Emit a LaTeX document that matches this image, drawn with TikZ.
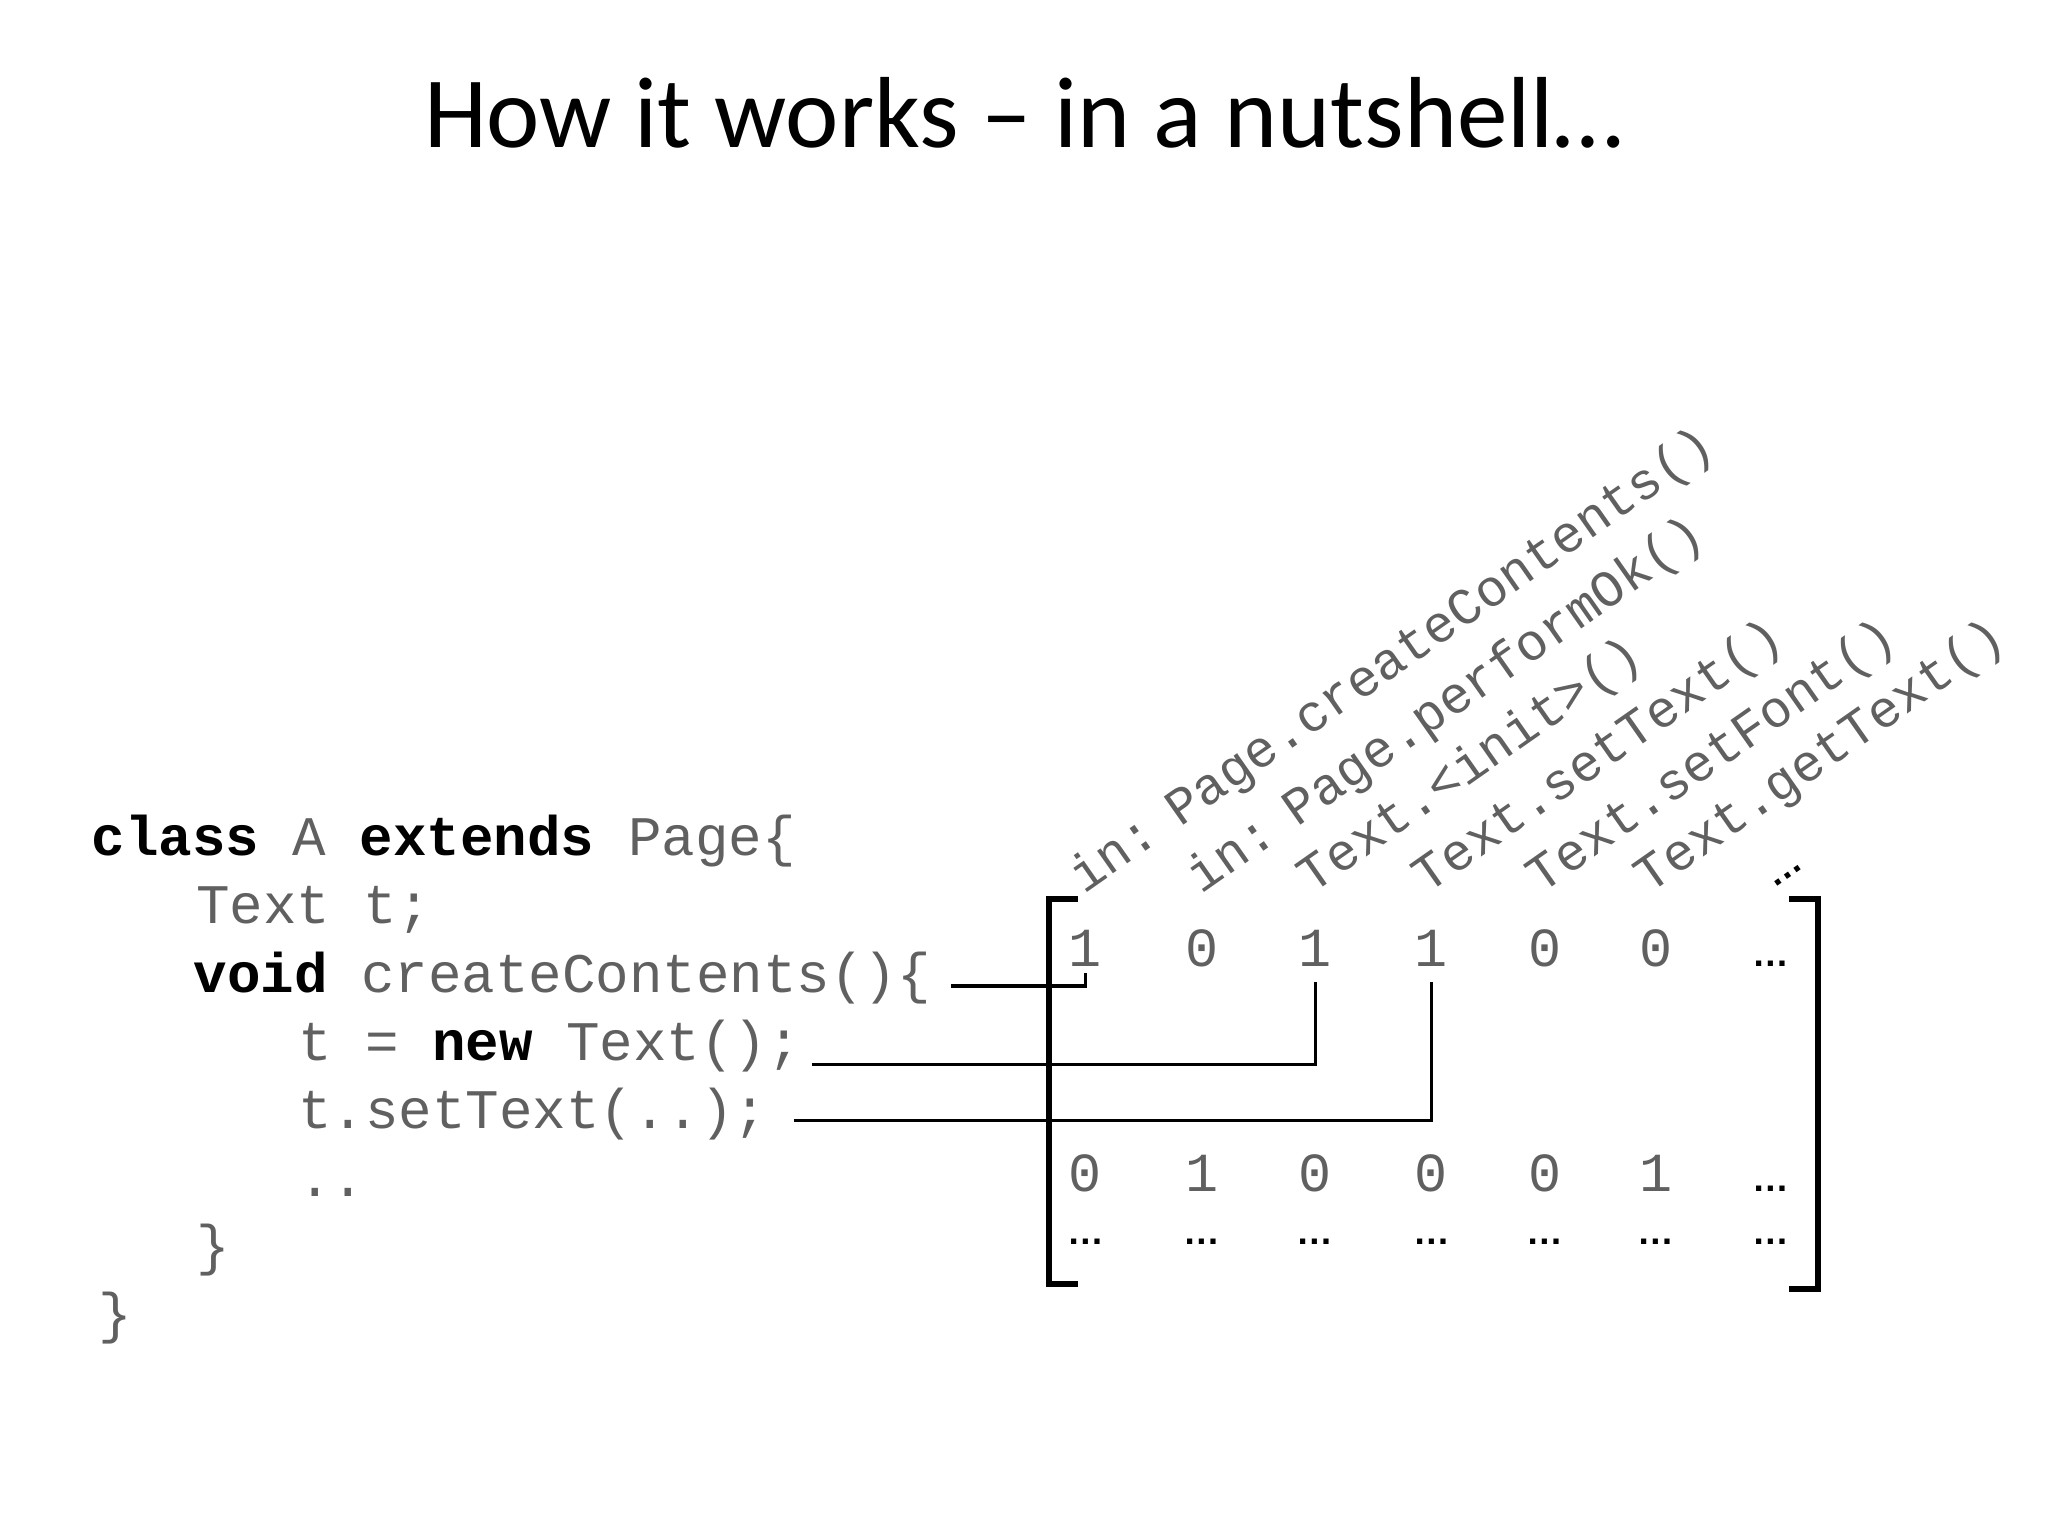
\documentclass[tikz,border=0pt]{standalone}
\usepackage{fontspec}
\setmainfont{Carlito}
\newfontfamily\codef{Liberation Mono}
\newfontfamily\dotf{Liberation Sans}
\usetikzlibrary{calc}
\definecolor{cg}{HTML}{606060}
\begin{document}
\begin{tikzpicture}[x=0.03cm,y=-0.03cm,
  code/.style={anchor=base west,inner sep=0pt,text=cg,font=\codef\fontsize{36.5}{40}\selectfont},
  ent/.style={anchor=base,inner sep=1pt,text=cg,font=\codef\fontsize{36}{40}\selectfont},
  dts/.style={anchor=base,inner sep=1pt,font=\dotf\bfseries\fontsize{24}{26}\selectfont},
  lab/.style={anchor=base west,inner sep=0pt,rotate=35,text=cg,font=\codef\fontsize{34}{38}\selectfont},
  conn/.style={line width=2.2pt},
  brk/.style={line width=4pt}]
\useasboundingbox (0,0) rectangle (1568,1176);
\node[anchor=base] (title) at (784,113) {\fontsize{66}{70}\selectfont How it works – in a nutshell…};
\node[code] (c1) at (70,655) {\textcolor{black}{\textbf{class}} A \textcolor{black}{\textbf{extends}} Page\{};
\node[code] (c2) at (150,707) {Text t;};
\node[code] (c3) at (148,760) {\textcolor{black}{\textbf{void}} createContents()\{};
\node[code] (c4) at (228,812) {t = \textcolor{black}{\textbf{new}} Text();};
\node[code] (c5) at (228,864) {t.setText(..);};
\node[code] (c6) at (228,916) {..};
\node[code] (c7) at (150,968) {\}};
\node[code] (c8) at (75,1020) {\}};
% labels
\node[lab] (l1) at (830,685) {in:\hspace{-0.35em} Page.createContents()};
\node[lab] (l2) at (920,685) {in:\hspace{-0.35em} Page.performOk()};
\node[lab] (l3) at (1005,685) {Text.<init>()};
\node[lab] (l4) at (1093,685) {Text.setText()};
\node[lab] (l5) at (1180,685) {Text.setFont()};
\node[lab] (l6) at (1263,685) {Text.getText()};
\node[dts,rotate=35] (l7) at (1370,672) {…};
% matrix
\foreach \x/\v [count=\i] in {831/1,920/0,1007/1,1096/1,1183/0,1268/0}{
  \node[ent] (m1\i) at (\x,740) {\v};
}
\node[dts] (m17) at (1356,740) {…};
\foreach \x/\v [count=\i] in {831/0,920/1,1007/0,1096/0,1183/0,1268/1}{
  \node[ent] (m2\i) at (\x,912) {\v};
  \node[dts] (m3\i) at (\x,953) {…};
}
\node[dts] (m27) at (1356,912) {…};
\node[dts] (m37) at (1356,953) {…};
\draw[brk] ($(m11.base)+(-6,-52)$) coordinate (bl1) -- ++(-22,0) -- ++(0,295) -- ++(22,0);
\draw[brk] ($(m17.base)+(14,-52)$) coordinate (br1) -- ++(22,0) -- ++(0,299) -- ++(-22,0);
% connectors
\draw[conn] ($(c3.base east)+(15,-5)$) -| ($(m11.base)+(0,5)$);
\draw[conn] ($(c4.base east)+(8,3)$) -| ($(m13.base)+(0,12)$);
\draw[conn] ($(c5.base east)+(20,-6)$) -| ($(m14.base)+(0,12)$);
\end{tikzpicture}
\end{document}
